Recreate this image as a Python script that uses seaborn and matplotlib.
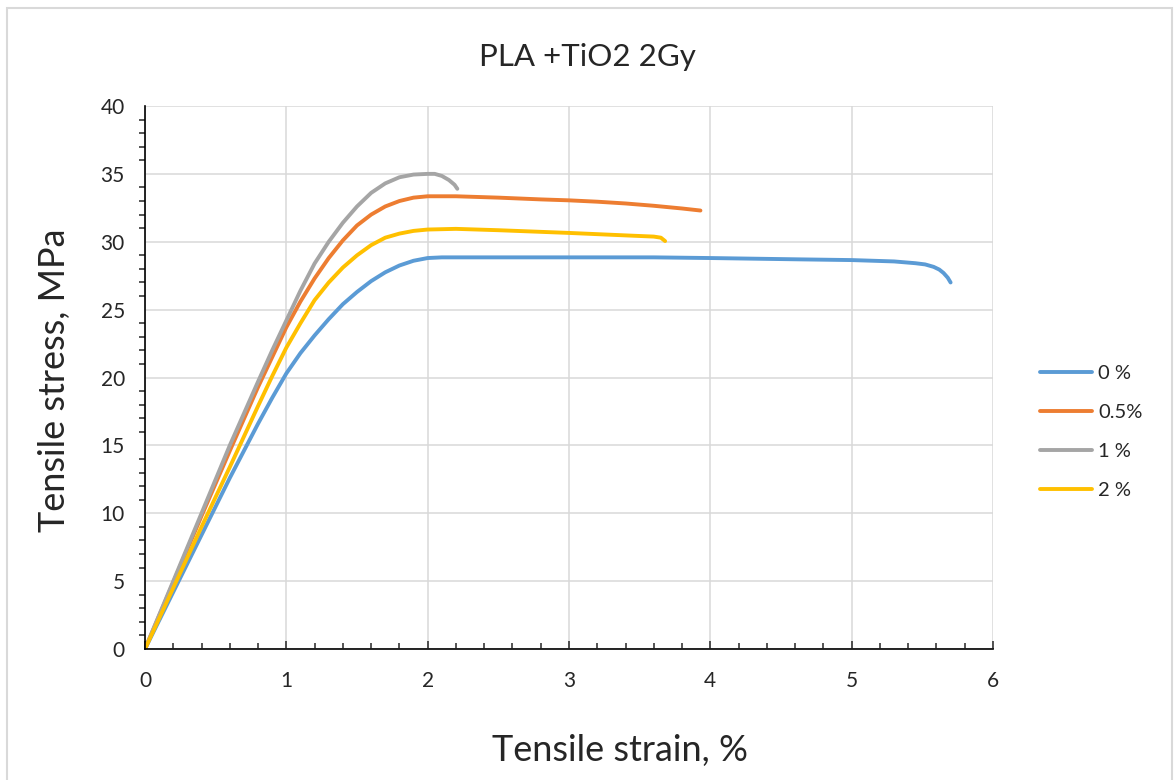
import numpy as np
import pandas as pd
import matplotlib as mpl
import matplotlib.pyplot as plt
import seaborn as sns
from matplotlib.ticker import MultipleLocator
from matplotlib.patches import Rectangle

sns.set_style('white')
plt.rcParams['font.family'] = ['Lato', 'DejaVu Sans']

## данные
labels = ['0 %', '0.5%', '1 %', '2 %']
colors = ['#5B9BD5', '#ED7D31', '#A5A5A5', '#FFC000']

strain_0 = [0, 0.2, 0.4, 0.6, 0.8, 0.9, 1.0, 1.1, 1.2, 1.3, 1.4, 1.5, 1.6, 1.7, 1.8,
            1.9, 2.0, 2.1, 2.5, 3.0, 3.6, 4.0, 4.65, 5.0, 5.3, 5.45, 5.52, 5.58, 5.62,
            5.65, 5.68, 5.70]
stress_0 = [0, 4.2, 8.4, 12.6, 16.6, 18.5, 20.3, 21.8, 23.1, 24.3, 25.4, 26.3, 27.1, 27.75, 28.25,
            28.6, 28.8, 28.85, 28.85, 28.85, 28.85, 28.8, 28.7, 28.65, 28.55, 28.42, 28.33, 28.15, 27.95,
            27.7, 27.35, 27.0]

strain_05 = [0, 0.2, 0.4, 0.6, 0.8, 0.9, 1.0, 1.1, 1.2, 1.3, 1.4, 1.5, 1.6, 1.7, 1.8,
             1.9, 2.0, 2.2, 2.5, 2.8, 3.0, 3.2, 3.4, 3.6, 3.8, 3.93]
stress_05 = [0, 4.9, 9.8, 14.6, 19.3, 21.5, 23.7, 25.6, 27.3, 28.8, 30.1, 31.2, 32.0, 32.6, 33.0,
             33.25, 33.35, 33.35, 33.25, 33.12, 33.05, 32.95, 32.82, 32.65, 32.45, 32.3]

strain_1 = [0, 0.2, 0.4, 0.6, 0.8, 0.9, 1.0, 1.1, 1.2, 1.3, 1.4, 1.5, 1.6, 1.7, 1.8,
            1.9, 2.0, 2.05, 2.1, 2.15, 2.19, 2.21]
stress_1 = [0, 5.0, 10.0, 15.0, 19.7, 22.0, 24.2, 26.4, 28.4, 30.0, 31.4, 32.6, 33.6, 34.3, 34.75,
            34.95, 35.0, 35.0, 34.85, 34.55, 34.2, 33.9]

strain_2 = [0, 0.2, 0.4, 0.6, 0.8, 0.9, 1.0, 1.1, 1.2, 1.3, 1.4, 1.5, 1.6, 1.7, 1.8,
            1.9, 2.0, 2.2, 2.5, 3.0, 3.44, 3.6, 3.65, 3.68]
stress_2 = [0, 4.5, 9.0, 13.4, 17.9, 20.1, 22.2, 24.0, 25.7, 27.0, 28.1, 29.0, 29.75, 30.3, 30.6,
            30.8, 30.9, 30.95, 30.85, 30.65, 30.45, 30.38, 30.3, 30.05]

frames = []
for lab, x, y in zip(labels, [strain_0, strain_05, strain_1, strain_2],
                     [stress_0, stress_05, stress_1, stress_2]):
    frames.append(pd.DataFrame({'strain': x, 'stress': y, 'series': lab}))
df = pd.concat(frames, ignore_index=True)

fig = plt.figure(figsize=(11.75, 7.8), dpi=100)
ax = fig.add_axes([145 / 1175, 1 - 649 / 780, (993 - 145) / 1175, (649 - 106) / 780])

sns.lineplot(data=df, x='strain', y='stress', hue='series', palette=colors,
             sort=False, estimator=None, linewidth=2.8, ax=ax)

ax.set_xlim(0, 6)
ax.set_ylim(0, 40)
ax.xaxis.set_major_locator(MultipleLocator(1))
ax.xaxis.set_minor_locator(MultipleLocator(0.2))
ax.yaxis.set_major_locator(MultipleLocator(5))
ax.yaxis.set_minor_locator(MultipleLocator(1))
ax.grid(True, which='major', color='#D9D9D9', linewidth=1.1)
ax.set_axisbelow(True)

for s in ['top', 'right']:
    ax.spines[s].set_visible(False)
for s in ['left', 'bottom']:
    ax.spines[s].set_color('black')
    ax.spines[s].set_linewidth(1.2)

ax.tick_params(axis='x', which='major', direction='in', length=5.5, width=1.1, pad=16, labelsize=15)
ax.tick_params(axis='x', which='minor', direction='in', length=4, width=1.1)
ax.tick_params(axis='y', which='major', direction='out', length=5.5, width=1.1, pad=9, labelsize=15)
ax.tick_params(axis='y', which='minor', direction='out', length=4, width=1.1, left=True)
ax.tick_params(axis='x', which='both', bottom=True)

ax.set_xlabel('')
ax.set_ylabel('')

fig.text(0.5, 1 - 57 / 780, 'PLA +TiO2 2Gy', ha='center', va='center', fontsize=22.5)
fig.text(620 / 1175, 1 - 750 / 780, 'Tensile strain, %', ha='center', va='center', fontsize=26)
fig.text(55 / 1175, 1 - 380 / 780, 'Tensile stress, MPa', ha='center', va='center',
         rotation=90, fontsize=26)

ax.legend(loc='center left', bbox_to_anchor=(1040 / 1175, 1 - 432 / 780),
          bbox_transform=fig.transFigure, frameon=False, fontsize=14.5, handlelength=2.6,
          labelspacing=1.1, handletextpad=0.3, borderpad=0, borderaxespad=0)

# рамка вокруг диаграммы
fig.patches.append(Rectangle((7 / 1175, -0.05), (1172 - 7) / 1175, 1.05 - 8 / 780,
                             transform=fig.transFigure, fill=False,
                             edgecolor='#D9D9D9', linewidth=1.5))

fig.savefig('out.png', dpi=100)
